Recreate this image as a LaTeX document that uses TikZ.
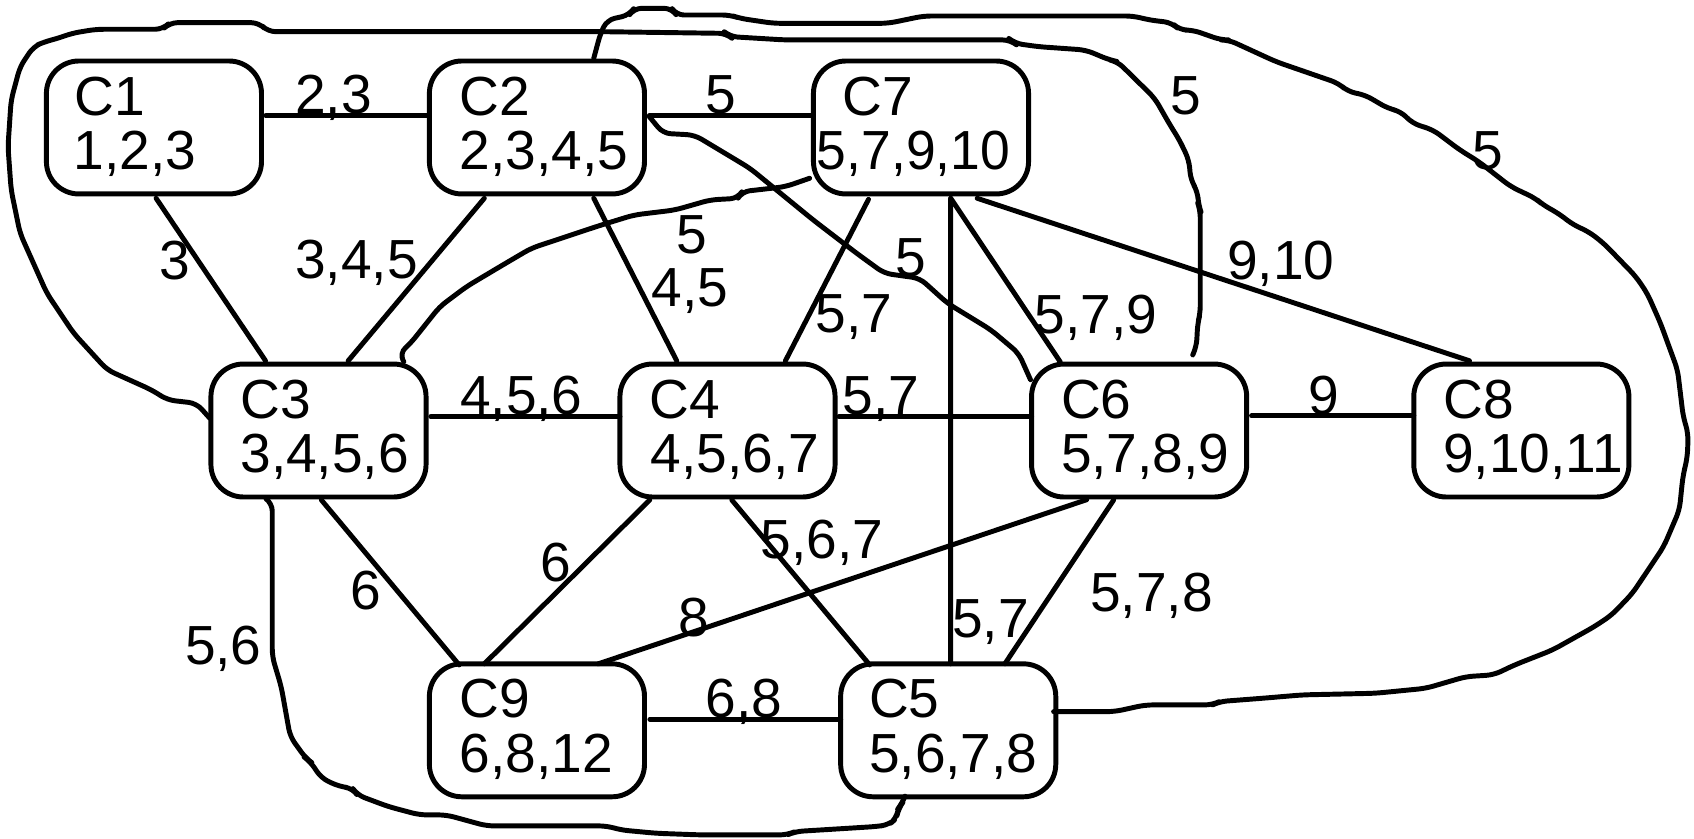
\documentclass[tikz,border=0pt]{standalone}
\usepackage{fontspec}
\setmainfont{Liberation Sans}
\usepackage{graphicx}
\usetikzlibrary{calc}
\begin{document}
\begin{tikzpicture}[x=0.01cm,y=-0.01cm,line width=1.3pt,line join=round,line cap=round,
  box/.style={draw,rounded corners=0.3cm,minimum width=1.99cm,minimum height=1.23cm,inner sep=0pt,outer sep=0pt},
  txt/.style={anchor=base west,inner sep=0pt,font=\fontsize{14.5}{17}\selectfont},
  lbl/.style={anchor=base west,inner sep=0pt,font=\fontsize{14.5}{17}\selectfont},
  wav/.style={rounded corners=2pt}]
\useasboundingbox (0,0) rectangle (1568,776);
% boxes
\node[box] (C1) at (142.5,118) {};
\node[box] (C2) at (497,118) {};
\node[box] (C7) at (852.5,118) {};
\node[box] (C3) at (294.8,398.5) {};
\node[box] (C4) at (673.4,398.5) {};
\node[box] (C6) at (1054.4,398.5) {};
\node[box] (C8) at (1408.2,398.5) {};
\node[box] (C9) at (497,676) {};
\node[box] (C5) at (877.7,676) {};
% box texts
\node[txt] (C1a) at ($(C1.north west)+(24,50)$) {C1};
\node[txt] (C1b) at ($(C1.north west)+(23,100.5)$) {1,2,3};
\node[txt] (C2a) at ($(C2.north west)+(26,50)$) {C2};
\node[txt] (C2b) at ($(C2.north west)+(26,100.5)$) {2,3,4,5};
\node[txt] (C7a) at ($(C7.north west)+(25,50)$) {C7};
\node[txt] (C7b) at ($(C7.north west)+(1,100.5)$) {\scalebox{0.97}[1]{5,7,9,10}};
\node[txt] (C3a) at ($(C3.north west)+(25,50)$) {C3};
\node[txt] (C3b) at ($(C3.north west)+(25,100.5)$) {3,4,5,6};
\node[txt] (C4a) at ($(C4.north west)+(25,50)$) {C4};
\node[txt] (C4b) at ($(C4.north west)+(26,100.5)$) {4,5,6,7};
\node[txt] (C6a) at ($(C6.north west)+(25,50)$) {C6};
\node[txt] (C6b) at ($(C6.north west)+(25,100.5)$) {5,7,8,9};
\node[txt] (C8a) at ($(C8.north west)+(25,50)$) {C8};
\node[txt] (C8b) at ($(C8.north west)+(25,100.5)$) {9,10,11};
\node[txt] (C9a) at ($(C9.north west)+(26,50)$) {C9};
\node[txt] (C9b) at ($(C9.north west)+(26,100.5)$) {6,8,12};
\node[txt] (C5a) at ($(C5.north west)+(24,50)$) {C5};
\node[txt] (C5b) at ($(C5.north west)+(24,100.5)$) {5,6,7,8};
% straight connectors
\draw ($(C1.east)+(4,-11)$) -- ($(C2.west)+(0,-11)$);
\draw ($(C2.east)+(4.5,-11)$) -- ($(C7.west)+(0,-11)$);
\draw ($(C1.south)+(2,4)$) -- ($(C3.north)+(-49,-3)$);
\draw ($(C2.south)+(-48.7,4)$) -- ($(C3.north)+(27.5,-3)$);
\draw ($(C2.south)+(52.6,4)$) -- ($(C4.north)+(-47,-3)$);
\draw ($(C7.south)+(-48.6,5)$) -- ($(C4.north)+(53.6,-3)$);
\draw ($(C7.south)+(27.5,4)$) -- ($(C5.north)+(2.3,0)$);
\draw ($(C7.south)+(27.5,4)$) -- ($(C6.north)+(-73,-2)$);
\draw ($(C7.south)+(52,4)$) -- ($(C8.north)+(-48,-3)$);
\draw ($(C3.east)+(4.4,-12.8)$) -- ($(C4.west)+(0,-12.8)$);
\draw ($(C4.east)+(3.6,-12.8)$) -- ($(C6.west)+(0,-12.8)$);
\draw ($(C6.east)+(4.5,-13.5)$) -- ($(C8.west)+(0,-13.5)$);
\draw ($(C3.south)+(2.7,2.8)$) -- ($(C9.north)+(-72,1)$);
\draw ($(C4.south)+(-72,2.8)$) -- ($(C9.north)+(-48.7,0)$);
\draw ($(C6.south)+(-48.5,2.5)$) -- ($(C9.north)+(56.7,0)$);
\draw ($(C4.south)+(4,2.8)$) -- ($(C5.north)+(-72.7,1)$);
\draw ($(C6.south)+(-23.6,2.8)$) -- ($(C5.north)+(52.4,0)$);
\draw ($(C9.east)+(5,-10.2)$) -- ($(C5.west)+(0,-10.2)$);
% wavy connectors
\draw[wav] ($(C2.east)+(4.5,-10)$) -- (613.7,123.4) -- (642.9,125) -- (694.2,155.8) -- (752.7,203.6) -- (793,234.5) -- (818.5,253) -- (851.4,257.6) -- (877,280.7) -- (917.3,305.4) -- (942.9,327) -- ($(C6.west)+(-1,-47)$);
\draw[wav] ($(C7.west)+(-3.5,47)$) -- (727,172.8) -- (686.8,177.4) -- (683,183.6) -- (657.5,185) -- (624.7,194.4) -- (586.8,199) -- (553.7,209.2) -- (491.7,229.8) -- (462.8,246.8) -- (431.8,265.3) -- (407,283.9) -- (380,317.8) -- (369.8,327) -- ($(C3.north)+(79,-2)$);
\draw[wav] ($(C3.west)+(-1,-11.3)$) -- (181.8,373.3) -- (155,370.2) -- (140.5,361) -- (99.2,342.4) -- (68.2,308.5) -- (43.4,271.5) -- (18.6,216) -- (10.3,175.8) -- (7.4,135.7) -- (10.3,92.6) -- (18.6,61.7) -- (31,43.2) -- (41.3,38.6) -- (53.7,35.5) -- (66.1,30.9) -- (88.8,27.1) -- (150.8,27.1) -- (157,21) -- (239.7,21) -- (247.9,29.3) -- (555.8,29.3) -- (672.2,30.9) -- (675.8,33.9) -- (727,37) -- (935.5,37) -- (939.2,40.1) -- (961.1,43.2) -- (1005,46.3) -- (1027,55.5) -- (1034.3,57) -- (1068.9,91) -- (1083,115.7) -- (1091.7,129.6) -- (1100.5,148.1) -- (1102.2,166.6) -- (1108.6,177.4) -- (1109.3,189.7) -- (1111,194.4) -- (1111,290) -- (1108.6,299.2) -- (1107.5,320.8) -- ($(C6.north)+(49.6,-8.4)$);
\draw[wav] ($(C2.north)+(52.6,-2.5)$) -- (555.8,30.9) -- (562,18.5) -- (582.6,13.9) -- (586.8,7.7) -- (621.9,7.7) -- (626,13.9) -- (675.8,13.9) -- (685,17) -- (716,21.6) -- (822.1,21.6) -- (855,14.8) -- (1049,14.8) -- (1063.7,18.5) -- (1084.7,21) -- (1091.7,27.8) -- (1104,27.8) -- (1130.3,37) -- (1137.3,37) -- (1181.1,57.1) -- (1239,77.1) -- (1247.7,84.8) -- (1263.5,87.9) -- (1284.6,100.3) -- (1296.8,103.3) -- (1307.3,114.1) -- (1326.6,120.3) -- (1351.2,138.8) -- (1368.7,149.6) -- (1398.5,172.8) -- (1421.3,183.6) -- (1428.3,189.7) -- (1442.3,197.4) -- (1456.4,208.2) -- (1470.4,214.4) -- (1484.4,225.2) -- (1514.2,256) -- (1524.7,271.5) -- (1537,299.2) -- (1552.8,342.4) -- (1558,385.6) -- (1562.6,401) -- (1561.9,422.7) -- (1557.7,441.2) -- (1554.5,472) -- (1540,505.9) -- (1511.1,549.1) -- (1491.9,569.2) -- (1475.8,580) -- (1437.2,601.6) -- (1401.9,615.5) -- (1382.6,624.7) -- (1356.9,626.3) -- (1319.9,637.1) -- (1273.3,641.7) -- (1205.8,643.2) -- (1168.9,646.3) -- (1128.7,649.4) -- (1122.3,652.5) -- (1060,652.5) -- (1031.7,658.7) -- ($(C5.east)+(-2,-17.3)$);
\draw[wav] ($(C3.south)+(-47,2.8)$) -- (252,465.8) -- (252,607.7) -- (260.3,635.5) -- (268.6,681.8) -- (283,701.8) -- (287.2,704.9) -- (297.5,720.3) -- (314,728) -- (326.4,729.6) -- (330.6,735.8) -- (359.5,746.6) -- (388.4,754.3) -- (413.2,754.3) -- (450.4,764.5) -- (562,764.5) -- (574.3,768.2) -- (607.4,771.3) -- (647.9,772.8) -- (728.9,772.8) -- (736,769.7) -- (810.3,765.1) -- (822.7,763.5) -- (829.8,757.4) -- (831.6,748.1) -- (835.1,743.5) -- ($(C5.south)+(-40.8,1.4)$);
% labels
\node[lbl] (l12) at (271,105) {2,3};
\node[lbl] (l27) at (651,105) {5};
\node[lbl] (l26) at (827,256) {5};
\node[lbl] (l73) at (624,234.5) {5};
\node[lbl] (l36) at (1081,106) {5};
\node[lbl] (l25) at (1361,157) {5};
\node[lbl] (l35) at (169,615.5) {5,6};
\node[lbl] (l13) at (145,259) {3};
\node[lbl] (l23) at (271,258) {3,4,5};
\node[lbl] (l24) at (601,284) {4,5};
\node[lbl] (l74) at (752.5,308) {5,7};
\node[lbl] (l76) at (955.5,308.5) {5,7,9};
\node[lbl] (l78) at (1133.6,259) {9,10};
\node[lbl] (l34) at (423.6,384) {4,5,6};
\node[lbl] (l46) at (778,384) {5,7};
\node[lbl] (l68) at (1208.7,384) {9};
\node[lbl] (l39) at (322.3,564.5) {6};
\node[lbl] (l49) at (498,538) {6};
\node[lbl] (l69) at (626,589) {8};
\node[lbl] (l45) at (702,517) {5,6,7};
\node[lbl] (l75) at (879,590) {5,7};
\node[lbl] (l65) at (1006.8,566) {5,7,8};
\node[lbl] (l95) at (650.7,664) {6,8};
\end{tikzpicture}
\end{document}
